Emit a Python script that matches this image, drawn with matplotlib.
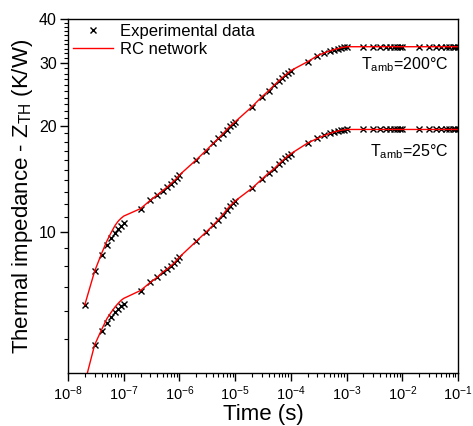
import matplotlib
matplotlib.use('Agg')
import matplotlib.pyplot as plt
from matplotlib.ticker import FixedLocator, FixedFormatter, NullFormatter

plt.rcParams['font.family'] = ['Liberation Sans', 'DejaVu Sans']
plt.rcParams['mathtext.fontset'] = 'custom'
plt.rcParams['mathtext.rm'] = 'Liberation Sans'

# time samples (s)
time = [2e-8, 3e-8, 4e-8, 5e-8, 6e-8, 7e-8, 8e-8, 9e-8,
        1e-7, 2e-7, 3e-7, 4e-7, 5e-7, 6e-7, 7e-7, 8e-7, 9e-7,
        1e-6, 2e-6, 3e-6, 4e-6, 5e-6, 6e-6, 7e-6, 8e-6, 9e-6,
        1e-5, 2e-5, 3e-5, 4e-5, 5e-5, 6e-5, 7e-5, 8e-5, 9e-5,
        1e-4, 2e-4, 3e-4, 4e-4, 5e-4, 6e-4, 7e-4, 8e-4, 9e-4,
        1e-3, 2e-3, 3e-3, 4e-3, 5e-3, 6e-3, 7e-3, 8e-3, 9e-3,
        1e-2, 2e-2, 3e-2, 4e-2, 5e-2, 6e-2, 7e-2, 8e-2, 9e-2,
        1e-1]

# T_amb = 200 C, measured
z200_exp = [6.23, 7.75, 8.63, 9.2, 9.62, 9.95, 10.2, 10.4,
            10.6, 11.65, 12.3, 12.74, 13.1, 13.4, 13.7, 13.96, 14.2,
            14.5, 16.0, 17.0, 17.8, 18.4, 18.95, 19.45, 19.9, 20.2,
            20.5, 22.6, 24.1, 25.1, 26.0, 26.7, 27.3, 27.8, 28.2,
            28.6, 30.3, 31.5, 32.1, 32.5, 32.8, 33.0, 33.2, 33.3,
            33.4, 33.4, 33.4, 33.4, 33.4, 33.4, 33.4, 33.4, 33.4,
            33.4, 33.4, 33.4, 33.4, 33.4, 33.4, 33.4, 33.4, 33.4,
            33.4]
# T_amb = 200 C, RC network fit
z200_rc = [6.23, 7.75, 8.7, 9.45, 10.0, 10.45, 10.75, 10.95,
           11.1, 11.65, 12.3, 12.74, 13.1, 13.4, 13.7, 13.96, 14.2,
           14.5, 16.0, 17.0, 17.8, 18.4, 18.95, 19.45, 19.9, 20.2,
           20.5, 22.6, 24.1, 25.1, 26.0, 26.7, 27.3, 27.8, 28.2,
           28.6, 30.3, 31.5, 32.1, 32.5, 32.8, 33.0, 33.2, 33.3,
           33.4, 33.4, 33.4, 33.4, 33.4, 33.4, 33.4, 33.4, 33.4,
           33.4, 33.4, 33.4, 33.4, 33.4, 33.4, 33.4, 33.4, 33.4,
           33.4]

# T_amb = 25 C, measured
z25_exp = [3.75, 4.8, 5.25, 5.55, 5.77, 5.93, 6.06, 6.18,
           6.27, 6.84, 7.21, 7.46, 7.71, 7.86, 8.03, 8.17, 8.35,
           8.5, 9.42, 10.0, 10.45, 10.85, 11.2, 11.55, 11.85, 12.05,
           12.25, 13.3, 14.1, 14.7, 15.1, 15.55, 15.9, 16.2, 16.45,
           16.65, 17.85, 18.4, 18.75, 19.0, 19.2, 19.3, 19.4, 19.45,
           19.5, 19.5, 19.5, 19.5, 19.5, 19.5, 19.5, 19.5, 19.5,
           19.5, 19.5, 19.5, 19.5, 19.5, 19.5, 19.5, 19.5, 19.5,
           19.5]
# T_amb = 25 C, RC network fit
z25_rc = [3.75, 4.8, 5.3, 5.7, 5.95, 6.15, 6.3, 6.42,
          6.5, 6.84, 7.21, 7.46, 7.71, 7.86, 8.03, 8.17, 8.35,
          8.5, 9.42, 10.0, 10.45, 10.85, 11.2, 11.55, 11.85, 12.05,
          12.25, 13.3, 14.1, 14.7, 15.1, 15.55, 15.9, 16.2, 16.45,
          16.65, 17.85, 18.4, 18.75, 19.0, 19.2, 19.3, 19.4, 19.45,
          19.5, 19.5, 19.5, 19.5, 19.5, 19.5, 19.5, 19.5, 19.5,
          19.5, 19.5, 19.5, 19.5, 19.5, 19.5, 19.5, 19.5, 19.5,
          19.5]

x_exponents = [-8, -7, -6, -5, -4, -3, -2, -1]
x_major = [10.0 ** e for e in x_exponents]
x_minor = [m * 10.0 ** e for e in x_exponents[:-1] for m in range(2, 10)]
y_major = [10, 20, 30, 40]
y_minor = [5, 6, 7, 8, 9] + list(range(11, 20)) + list(range(21, 30)) + list(range(31, 40))

fig = plt.figure(figsize=(4.73, 4.26), dpi=100)
ax = fig.add_axes([0.1438, 0.1244, 0.8245, 0.8310])

ax.plot(time, z200_exp, 'x', color='black', ms=5, mew=1, label='Experimental data')
ax.plot(time, z200_rc, '-', color='red', lw=1, label='RC network')
ax.plot(time, z25_exp, 'x', color='black', ms=5, mew=1)
ax.plot(time, z25_rc, '-', color='red', lw=1)

ax.set_xscale('log')
ax.set_yscale('log')
ax.set_xlim(1e-8, 1e-1)
ax.set_ylim(4, 40)

ax.xaxis.set_major_locator(FixedLocator(x_major))
ax.xaxis.set_major_formatter(FixedFormatter(['$\\mathregular{10^{%d}}$' % e for e in x_exponents]))
ax.xaxis.set_minor_locator(FixedLocator(x_minor))
ax.xaxis.set_minor_formatter(NullFormatter())
ax.yaxis.set_major_locator(FixedLocator(y_major))
ax.yaxis.set_major_formatter(FixedFormatter([str(v) for v in y_major]))
ax.yaxis.set_minor_locator(FixedLocator(y_minor))
ax.yaxis.set_minor_formatter(NullFormatter())

ax.tick_params(which='major', direction='out', length=6, width=1, labelsize=10.5, pad=2)
ax.tick_params(axis='y', which='major', labelsize=11.5)
ax.tick_params(which='minor', direction='out', length=3, width=0.8)
for s in ax.spines.values():
    s.set_linewidth(1)

ax.set_xlabel('Time (s)', fontsize=16, labelpad=1)
ax.set_ylabel('Thermal impedance - Z$_{\\mathregular{TH}}$ (K/W)', fontsize=16, labelpad=3)

ax.text(0.975, 0.87, '$\\mathregular{T_{amb}}$=200°C', transform=ax.transAxes,
        ha='right', va='center', fontsize=11.5)
ax.text(0.975, 0.624, '$\\mathregular{T_{amb}}$=25°C', transform=ax.transAxes,
        ha='right', va='center', fontsize=11.5)

ax.legend(loc='upper left', frameon=False, fontsize=12, handlelength=2.4,
          borderaxespad=0.2, handletextpad=0.4, labelspacing=0.2, borderpad=0.1)

fig.savefig('out.png', dpi=100)
